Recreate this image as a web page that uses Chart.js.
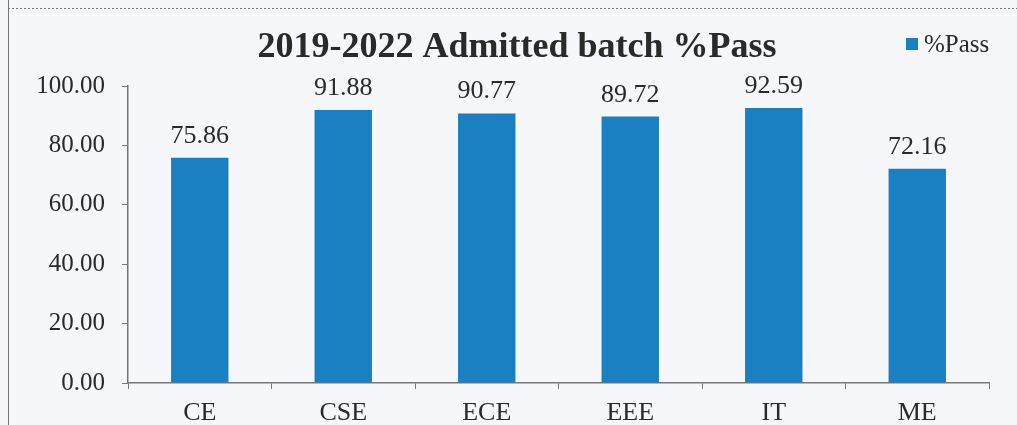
<!DOCTYPE html>
<html>
<head>
<meta charset="utf-8">
<script src="https://cdn.jsdelivr.net/npm/chart.js@4/dist/chart.umd.min.js"></script>
<style>
  html, body { margin: 0; padding: 0; background: #f6f7fb; }
  #wrap { width: 1017px; height: 425px; }
</style>
</head>
<body>
<div id="wrap"><canvas id="passChart" width="1017" height="425"></canvas></div>
<script>
const branches = ['CE', 'CSE', 'ECE', 'EEE', 'IT', 'ME'];
const passPercent = [75.86, 91.88, 90.77, 89.72, 92.59, 72.16];
const titleText = '2019-2022 Admitted batch %Pass';
const seriesName = '%Pass';

const barColor = '#1b80c2';
const serif = '"Liberation Serif", "DejaVu Serif", serif';

// fondo, marco, titulo, leyenda y etiquetas de valor
const decorPlugin = {
  id: 'decor',
  beforeDraw(chart) {
    const c = chart.ctx;
    c.save();
    c.fillStyle = '#f6f7fb';
    c.fillRect(0, 0, chart.width, chart.height);
    c.strokeStyle = '#777';
    c.lineWidth = 1;
    c.beginPath();
    c.moveTo(8.5, 0);
    c.lineTo(8.5, chart.height);
    c.stroke();
    c.setLineDash([2, 2]);
    c.beginPath();
    c.moveTo(8, 8.5);
    c.lineTo(chart.width, 8.5);
    c.stroke();
    c.restore();
  },
  afterDraw(chart) {
    const c = chart.ctx;
    c.save();
    c.fillStyle = '#2a2a2a';
    c.font = 'bold 36px ' + serif;
    c.textAlign = 'center';
    c.textBaseline = 'middle';
    c.fillText(titleText, 517, 48);

    // leyenda
    c.fillStyle = barColor;
    c.fillRect(906, 38, 12, 12);
    c.fillStyle = '#2a2a2a';
    c.font = '25px ' + serif;
    c.textAlign = 'left';
    c.fillText(seriesName, 924, 45);

    // valores encima de las barras
    c.textAlign = 'center';
    c.textBaseline = 'alphabetic';
    c.font = '26px ' + serif;
    chart.getDatasetMeta(0).data.forEach((bar, i) => {
      c.fillText(passPercent[i].toFixed(2), bar.x, bar.y - 15);
    });
    c.restore();
  }
};

new Chart(document.getElementById('passChart'), {
  type: 'bar',
  data: {
    labels: branches,
    datasets: [{
      label: seriesName,
      data: passPercent,
      backgroundColor: barColor,
      barPercentage: 0.4,
      categoryPercentage: 1.0
    }]
  },
  options: {
    responsive: false,
    animation: false,
    layout: { padding: { left: 0, top: 86, right: 28, bottom: 0 } },
    plugins: {
      legend: { display: false },
      title: { display: false },
      tooltip: { enabled: false }
    },
    scales: {
      x: {
        afterFit(scale) { scale.height = 42; },
        grid: {
          offset: true,
          drawOnChartArea: false,
          drawTicks: true,
          tickLength: 6,
          color: '#777'
        },
        border: { display: true, color: '#777', width: 1.5 },
        ticks: {
          color: '#2a2a2a',
          font: { family: serif, size: 26 },
          padding: 9
        }
      },
      y: {
        min: 0,
        max: 100,
        afterFit(scale) { scale.width = 128; },
        grid: {
          drawOnChartArea: false,
          drawTicks: true,
          tickLength: 6,
          color: '#777'
        },
        border: { display: true, color: '#777', width: 1.5 },
        ticks: {
          stepSize: 20,
          color: '#2a2a2a',
          font: { family: serif, size: 25 },
          padding: 17,
          callback: v => v.toFixed(2)
        }
      }
    }
  },
  plugins: [decorPlugin]
});
</script>
</body>
</html>
